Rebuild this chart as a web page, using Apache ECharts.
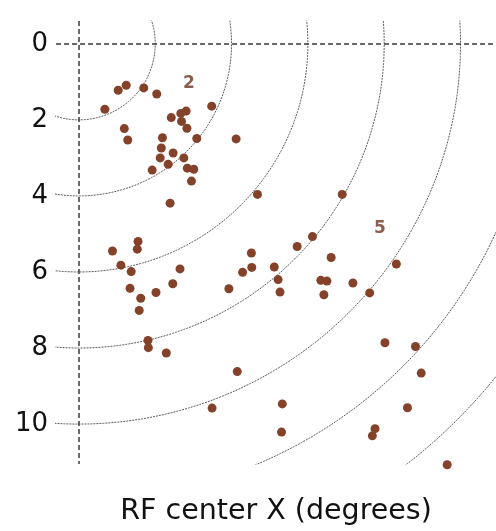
<!DOCTYPE html>
<html>
<head>
<meta charset="utf-8">
<script src="https://cdn.jsdelivr.net/npm/echarts@6/dist/echarts.min.js"></script>
<style>
html,body{margin:0;padding:0;background:#fff;}
#chart{width:496px;height:531px;}
</style>
</head>
<body>
<div id="chart"></div>
<script>
// ---- data ----
const pointsX = [0.68,1.03,1.24,1.70,2.04,3.48,2.42,2.67,2.81,2.69,2.83,1.19,1.28,2.19,3.09,4.12,2.16,2.47,2.13,2.75,2.34,1.92,2.84,3.01,2.95,2.39,4.68,6.90,
  1.55,0.88,1.53,1.10,1.37,2.65,2.46,1.34,2.02,1.62,1.58,1.81,1.82,2.29,3.93,4.29,4.52,4.53,5.12,5.22,5.27,5.72,6.12,6.61,6.34,6.50,6.42,7.18,7.62,8.32,
  8.02,8.82,8.97,4.15,3.49,5.33,5.31,8.61,7.76,7.69,9.65];
const pointsY = [1.72,1.22,1.09,1.16,1.32,1.64,1.94,1.83,1.77,2.04,2.22,2.23,2.53,2.47,2.49,2.50,2.74,2.87,3.00,3.00,3.17,3.32,3.27,3.30,3.61,4.19,3.96,3.96,
  5.20,5.45,5.40,5.82,5.99,5.92,6.31,6.43,6.54,6.69,7.01,7.80,7.99,8.13,6.44,6.01,5.50,5.88,5.87,6.20,6.53,5.33,5.07,5.62,6.22,6.24,6.60,6.29,6.55,5.79,
  7.86,7.96,8.66,8.62,9.58,9.47,10.21,9.57,10.12,10.31,11.07];
const ringRadii = [2,4,6,8,10,12,14];
const yTickValues = [0,2,4,6,8,10];
const annotationText = ['2','5'];
const annotationX = [2.88,7.89];
const annotationY = [1.04,4.85];
const xName = 'RF center X (degrees)';

// ---- build ----
const scatterData = pointsX.map((x,i)=>[x,pointsY[i]]);
const ringSeries = ringRadii.map(r=>{
  const pts=[];
  const a0=-0.45, a1=Math.PI/2+0.45, n=240;
  for(let k=0;k<=n;k++){
    const a=a0+(a1-a0)*k/n;
    pts.push([r*Math.cos(a), r*Math.sin(a)]);
  }
  return {type:'line',data:pts,showSymbol:false,silent:true,clip:true,z:1,
    lineStyle:{color:'#5a5a5a',width:1,type:[2,1]},animation:false};
});

const chart = echarts.init(document.getElementById('chart'),null,{renderer:'canvas'});
chart.setOption({
  animation:false,
  grid:{left:56,right:0,top:21,bottom:65},
  xAxis:{type:'value',min:-0.6,max:10.93,
    axisLine:{show:false},axisTick:{show:false},axisLabel:{show:false},splitLine:{show:false},
    name:xName,nameLocation:'middle',nameGap:33,
    nameTextStyle:{fontFamily:'DejaVu Sans',fontSize:28.5,color:'#111'}},
  yAxis:{type:'value',inverse:true,min:-0.6,max:11.05,
    axisLine:{show:false},axisTick:{show:false},splitLine:{show:false},
    axisLabel:{customValues:yTickValues,fontFamily:'DejaVu Sans',fontSize:26,color:'#111',margin:8}},
  series:[
    ...ringSeries,
    {type:'scatter',data:scatterData,symbolSize:9,clip:false,z:5,
      itemStyle:{color:'#84422a',opacity:1},
      markLine:{silent:true,symbol:['none','none'],label:{show:false},
        lineStyle:{color:'#3a3a3a',width:1.5,type:[5,3]},
        data:[{yAxis:0},{xAxis:0}]}},
    {type:'scatter',symbolSize:0,z:6,silent:true,
      data:annotationText.map((t,i)=>({value:[annotationX[i],annotationY[i]],name:t})),
      label:{show:true,position:'inside',formatter:p=>p.name,
        fontFamily:'DejaVu Sans',fontWeight:'bold',fontSize:17,color:'#6e3520'}}
  ]
});
</script>
</body>
</html>
